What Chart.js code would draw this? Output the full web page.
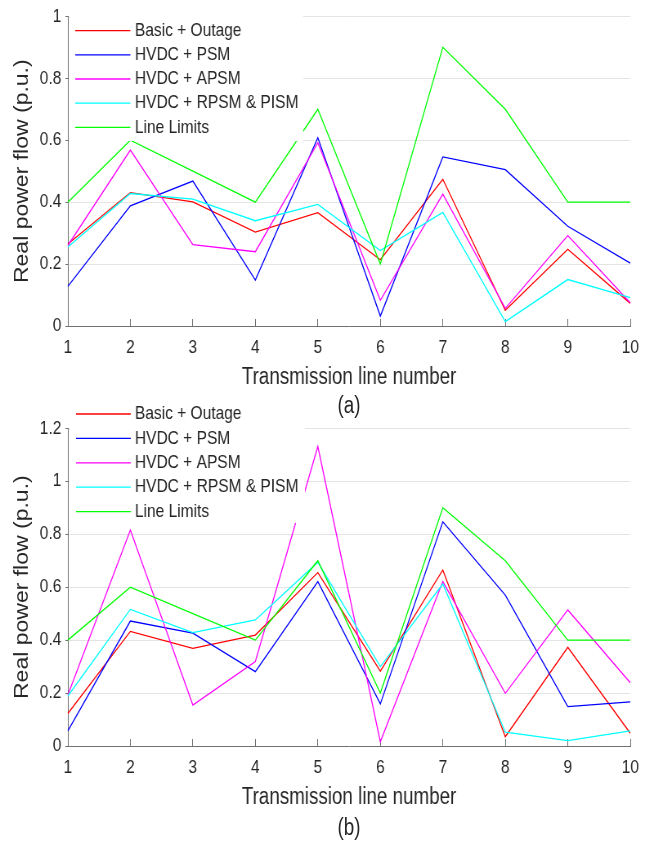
<!DOCTYPE html>
<html>
<head>
<meta charset="utf-8">
<script src="https://cdn.jsdelivr.net/npm/chart.js@4.4.1/dist/chart.umd.min.js"></script>
<style>
    html, body { margin: 0; padding: 0; background: #fff; }
    body { width: 654px; height: 842px; overflow: hidden; position: relative; }
    /* the original figure is squeezed horizontally, so draw at 800 wide and squeeze */
    #stage { position: absolute; left: 0; top: 0; width: 800px; height: 842px; transform: scaleX(0.8175); transform-origin: 0 0; }
    #stage canvas { position: absolute; left: 0; }
    #chartA { top: 0; }
    #chartB { top: 398px; }
    .caption { position: absolute; left: 0; width: 854px; text-align: center; font: 23px 'Liberation Sans', Arial, sans-serif; color: #262626; line-height: 28px; }
</style>
</head>
<body>
<div id="stage">
    <canvas id="chartA" width="800" height="398"></canvas>
    <canvas id="chartB" width="800" height="444"></canvas>
    <div class="caption" style="top: 391px;">(a)</div>
    <div class="caption" style="top: 813px;">(b)</div>
</div>
<script>
const lineNumbers = ['1', '2', '3', '4', '5', '6', '7', '8', '9', '10'];
const seriesNames = ['Basic + Outage', 'HVDC + PSM', 'HVDC + APSM', 'HVDC + RPSM & PISM', 'Line Limits'];
const seriesColors = ['#ff0000', '#0000ff', '#ff00ff', '#00ffff', '#00ff00'];

// panel (a)
const basicA  = [0.265, 0.431, 0.401, 0.303, 0.366, 0.214, 0.474, 0.051, 0.248, 0.073];
const psmA    = [0.128, 0.388, 0.468, 0.148, 0.608, 0.032, 0.546, 0.505, 0.322, 0.203];
const apsmA   = [0.260, 0.568, 0.263, 0.240, 0.592, 0.083, 0.426, 0.057, 0.292, 0.075];
const rpsmA   = [0.255, 0.428, 0.410, 0.340, 0.393, 0.244, 0.367, 0.014, 0.150, 0.092];
const limitsA = [0.4, 0.6, 0.5, 0.4, 0.7, 0.2, 0.9, 0.7, 0.4, 0.4];
const yTicksA = [0, 0.2, 0.4, 0.6, 0.8, 1];
const yLabelsA = ['0', '0.2', '0.4', '0.6', '0.8', '1'];

// panel (b)
const basicB  = [0.123, 0.433, 0.369, 0.419, 0.655, 0.283, 0.665, 0.035, 0.373, 0.048];
const psmB    = [0.057, 0.472, 0.426, 0.281, 0.621, 0.159, 0.847, 0.570, 0.149, 0.167];
const apsmB   = [0.193, 0.816, 0.155, 0.319, 1.131, 0.016, 0.621, 0.199, 0.514, 0.239];
const rpsmB   = [0.189, 0.516, 0.428, 0.476, 0.694, 0.300, 0.612, 0.052, 0.020, 0.057];
const limitsB = [0.4, 0.6, 0.5, 0.4, 0.7, 0.2, 0.9, 0.7, 0.4, 0.4];
const yTicksB = [0, 0.2, 0.4, 0.6, 0.8, 1, 1.2];
const yLabelsB = ['0', '0.2', '0.4', '0.6', '0.8', '1', '1.2'];

const textColor = '#262626';
const axisColor = '#707070';

Chart.defaults.font.family = "'Liberation Sans', Arial, Helvetica, sans-serif";

// legend drawn on a white box over the lines, like the matlab one
const boxLegend = {
    id: 'boxLegend',
    afterDatasetsDraw(chart, args, opts) {
        const ctx = chart.ctx;
        ctx.save();
        ctx.fillStyle = '#ffffff';
        ctx.fillRect(opts.left, opts.top, opts.right - opts.left, opts.bottom - opts.top);
        ctx.font = "19px 'Liberation Sans', Arial, sans-serif";
        ctx.textBaseline = 'middle';
        ctx.lineWidth = 1.3;
        chart.data.datasets.forEach(function(ds, i) {
            const y = opts.firstRow + i * opts.rowGap;
            ctx.strokeStyle = ds.borderColor;
            ctx.beginPath();
            ctx.moveTo(opts.lineStart, y);
            ctx.lineTo(opts.lineEnd, y);
            ctx.stroke();
            ctx.fillStyle = textColor;
            ctx.fillText(ds.label, opts.textStart, y);
        });
        ctx.restore();
    }
};

function makeChart(id, seriesList, yTicks, yLabels, yMax, padTop, xHeight, titlePad, legendBox) {
    const datasets = seriesList.map(function(values, i) {
        return {
            label: seriesNames[i],
            data: values,
            borderColor: seriesColors[i],
            backgroundColor: seriesColors[i],
            borderWidth: 1.3,
            pointRadius: 0,
            tension: 0,
            fill: false,
            order: seriesList.length - i
        };
    });

    return new Chart(document.getElementById(id), {
        type: 'line',
        data: { labels: lineNumbers, datasets: datasets },
        plugins: [boxLegend],
        options: {
            responsive: false,
            animation: false,
            devicePixelRatio: 1,
            layout: { padding: { top: padTop, right: 29, bottom: 0, left: 0 } },
            plugins: {
                legend: { display: false },
                tooltip: { enabled: false },
                boxLegend: legendBox
            },
            scales: {
                x: {
                    type: 'category',
                    offset: false,
                    afterFit(scale) { scale.height = xHeight; },
                    grid: { drawOnChartArea: false, drawTicks: true, tickLength: -7, tickColor: axisColor, lineWidth: 1 },
                    border: { color: axisColor, width: 1 },
                    ticks: { autoSkip: false, maxRotation: 0, padding: 17.6, color: textColor, font: { size: 19 } },
                    title: {
                        display: true,
                        text: 'Transmission line number',
                        color: textColor,
                        font: { size: 23 },
                        padding: { top: 0, bottom: titlePad }
                    }
                },
                y: {
                    min: 0,
                    max: yMax,
                    afterFit(scale) { scale.width = 83; },
                    afterBuildTicks(scale) { scale.ticks = yTicks.map(v => ({ value: v })); },
                    grid: { color: '#e4e4e4', lineWidth: 1, drawTicks: true, tickLength: 3, tickColor: axisColor },
                    border: { color: axisColor, width: 1 },
                    ticks: {
                        padding: 5,
                        color: textColor,
                        font: { size: 19 },
                        callback: function(value, index) { return yLabels[index]; }
                    },
                    title: {
                        display: true,
                        text: 'Real power flow (p.u.)',
                        color: textColor,
                        font: { size: 23 },
                        padding: { top: 14.2, bottom: 0 }
                    }
                }
            }
        }
    });
}

makeChart('chartA', [basicA, psmA, apsmA, rpsmA, limitsA], yTicksA, yLabelsA, 1, 14.5, 72, 6.2,
    { left: 85, top: 15, right: 371, bottom: 141, firstRow: 30.7, rowGap: 24.15, lineStart: 92, lineEnd: 159.5, textStart: 165 });

makeChart('chartB', [basicB, psmB, apsmB, rpsmB, limitsB], yTicksB, yLabelsB, 1.2, 30.3, 96, 30.2,
    { left: 86, top: 3, right: 373, bottom: 125, firstRow: 16, rowGap: 24.4, lineStart: 93, lineEnd: 160, textStart: 165 });
</script>
</body>
</html>
